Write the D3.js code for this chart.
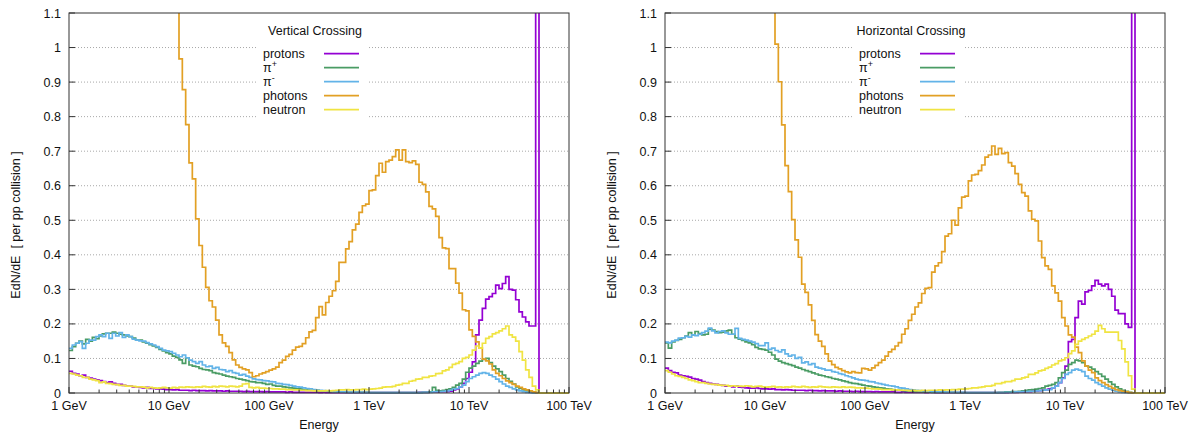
<!DOCTYPE html>
<html><head><meta charset="utf-8">
<script src="https://cdn.jsdelivr.net/npm/d3@7"></script>
<style>
body{margin:0;background:#fff}
svg{font-family:"Liberation Sans",Arial,Helvetica,sans-serif}
</style>
</head><body>
<svg id="chart" width="1195" height="434"></svg>
<script>
// ---------- data ----------
const binsPerDecade = 30;
const nBins = 150;
const xDomain = [1, 1e5];           // GeV
const yDomain = [0, 1.1];
const xTickValues = [1, 10, 100, 1000, 10000, 100000];
const xTickLabels = ["1 GeV", "10 GeV", "100 GeV", "1 TeV", "10 TeV", "100 TeV"];
const yTickValues = [0, 0.1, 0.2, 0.3, 0.4, 0.5, 0.6, 0.7, 0.8, 0.9, 1.0, 1.1];
const yTickLabels = ["0", "0.1", "0.2", "0.3", "0.4", "0.5", "0.6", "0.7", "0.8", "0.9", "1", "1.1"];
const seriesNames = ["protons", "π+", "π-", "photons", "neutron"];
const seriesColors = ["#9400d3", "#4a9c64", "#62b3e8", "#e2a024", "#f0e442"];
const panelTitles = ["Vertical Crossing", "Horizontal Crossing"];
const xAxisTitle = "Energy";
const yAxisTitle = "EdN/dE  [ per pp collision ]";

// Vertical crossing
const vProtons = [
 0.063,0.057,0.055,0.050,0.052,0.045,0.043,0.040,0.038,0.036,
 0.033,0.030,0.032,0.028,0.025,0.025,0.022,0.020,0.020,0.018,
 0.018,0.016,0.015,0.016,0.013,0.013,0.012,0.012,0.011,0.010,
 0.010,0.009,0.010,0.008,0.008,0.008,0.007,0.008,0.007,0.007,
 0.007,0.006,0.007,0.006,0.006,0.006,0.005,0.006,0.005,0.005,
 0.005,0.005,0.004,0.005,0.004,0.004,0.004,0.004,0.003,0.004,
 0.003,0.003,0.003,0.003,0.003,0.002,0.003,0.002,0.002,0.002,
 0.002,0.002,0.002,0.002,0.002,0.001,0.002,0.001,0.001,0.001,
 0.001,0.001,0.001,0.001,0.001,0.001,0.001,0.001,0.001,0.001,
 0.001,0.001,0.001,0.001,0.001,0.001,0.001,0.001,0.001,0.001,
 0.001,0.001,0.001,0.001,0.001,0.002,0.002,0.002,0.003,0.003,
 0.003,0.004,0.004,0.004,0.005,0.009,0.012,0.018,0.028,0.042,
 0.060,0.090,0.168,0.211,0.245,0.272,0.279,0.288,0.312,0.302,
 0.317,0.337,0.300,0.298,0.270,0.235,0.220,0.206,0.194,0.194,
 2.600,0,0,0,0,0,0,0,0,0];
const vPiPlus = [
 0.123,0.134,0.144,0.150,0.142,0.155,0.150,0.161,0.157,0.165,
 0.171,0.173,0.173,0.176,0.173,0.170,0.168,0.165,0.163,0.159,
 0.153,0.153,0.148,0.144,0.140,0.136,0.132,0.126,0.122,0.117,
 0.113,0.107,0.103,0.096,0.086,0.102,0.081,0.078,0.076,0.071,
 0.068,0.067,0.065,0.059,0.057,0.055,0.052,0.049,0.047,0.045,
 0.042,0.040,0.038,0.036,0.033,0.032,0.030,0.030,0.028,0.025,
 0.026,0.022,0.020,0.020,0.018,0.016,0.015,0.014,0.012,0.012,
 0.010,0.009,0.008,0.008,0.007,0.006,0.005,0.005,0.004,0.004,
 0.003,0.003,0.003,0.002,0.002,0.002,0.002,0.002,0.002,0.002,
 0.001,0.001,0.001,0.001,0.001,0.001,0.001,0.001,0.001,0.001,
 0.001,0.001,0.001,0.001,0.001,0.001,0.002,0.002,0.003,0.016,
 0.008,0.006,0.008,0.010,0.012,0.016,0.023,0.028,0.040,0.060,
 0.072,0.078,0.086,0.092,0.097,0.100,0.088,0.078,0.070,0.062,
 0.052,0.042,0.034,0.026,0.018,0.013,0.009,0.006,0.004,0.002,
 0.001,0,0,0,0,0,0,0,0,0];
const vPiMinus = [
 0.129,0.139,0.144,0.149,0.129,0.144,0.153,0.153,0.163,0.168,
 0.163,0.173,0.158,0.173,0.165,0.175,0.161,0.168,0.163,0.156,
 0.153,0.151,0.150,0.146,0.142,0.139,0.134,0.129,0.124,0.122,
 0.120,0.115,0.110,0.105,0.110,0.102,0.095,0.091,0.086,0.091,
 0.081,0.076,0.078,0.071,0.074,0.068,0.067,0.062,0.065,0.059,
 0.057,0.052,0.054,0.049,0.045,0.041,0.039,0.038,0.036,0.035,
 0.033,0.032,0.028,0.027,0.025,0.024,0.022,0.020,0.018,0.017,
 0.015,0.013,0.012,0.010,0.009,0.008,0.007,0.006,0.005,0.004,
 0.004,0.003,0.003,0.002,0.002,0.002,0.002,0.002,0.001,0.001,
 0.001,0.001,0.001,0.001,0.001,0.001,0.001,0.001,0.001,0.001,
 0.001,0.001,0.001,0.001,0.001,0.001,0.002,0.002,0.002,0.003,
 0.004,0.004,0.005,0.006,0.008,0.011,0.013,0.018,0.023,0.033,
 0.042,0.047,0.052,0.057,0.059,0.057,0.052,0.047,0.040,0.033,
 0.026,0.020,0.016,0.012,0.009,0.006,0.004,0.002,0.001,0,
 0,0,0,0,0,0,0,0,0,0];
const vPhotons = [
 3.20,3.10,3.00,2.90,2.80,2.70,2.60,2.50,2.40,2.30,
 2.20,2.10,2.00,1.95,1.90,1.85,1.80,1.75,1.70,1.65,
 1.60,1.55,1.50,1.45,1.40,1.36,1.32,1.28,1.25,1.22,
 1.19,1.16,1.13,0.967,0.878,0.777,0.666,0.620,0.504,0.427,
 0.364,0.306,0.267,0.249,0.211,0.168,0.145,0.135,0.117,0.096,
 0.081,0.074,0.070,0.067,0.059,0.047,0.050,0.055,0.058,0.062,
 0.066,0.070,0.075,0.088,0.095,0.106,0.112,0.124,0.133,0.135,
 0.143,0.160,0.177,0.181,0.218,0.250,0.226,0.262,0.280,0.296,
 0.323,0.378,0.378,0.417,0.438,0.472,0.489,0.523,0.542,0.547,
 0.586,0.588,0.629,0.665,0.639,0.670,0.674,0.684,0.704,0.674,
 0.704,0.670,0.667,0.672,0.662,0.610,0.604,0.582,0.540,0.533,
 0.511,0.450,0.420,0.418,0.360,0.360,0.318,0.289,0.241,0.238,
 0.183,0.164,0.148,0.130,0.098,0.093,0.084,0.067,0.057,0.050,
 0.042,0.035,0.030,0.025,0.020,0.016,0.012,0.009,0.006,0.003,
 0.001,0,0,0,0,0,0,0,0,0];
const vNeutron = [
 0.057,0.055,0.052,0.050,0.045,0.045,0.040,0.038,0.036,0.030,
 0.032,0.028,0.027,0.025,0.024,0.022,0.022,0.020,0.020,0.019,
 0.018,0.018,0.017,0.015,0.016,0.015,0.014,0.015,0.016,0.015,
 0.014,0.016,0.015,0.017,0.016,0.018,0.017,0.016,0.018,0.017,
 0.019,0.018,0.017,0.019,0.018,0.020,0.019,0.018,0.020,0.019,
 0.018,0.020,0.026,0.027,0.016,0.015,0.016,0.014,0.014,0.013,
 0.013,0.012,0.012,0.011,0.011,0.010,0.010,0.009,0.009,0.008,
 0.008,0.007,0.007,0.006,0.007,0.006,0.006,0.007,0.006,0.007,
 0.008,0.009,0.009,0.010,0.009,0.009,0.010,0.010,0.011,0.010,
 0.011,0.012,0.013,0.014,0.017,0.018,0.018,0.019,0.023,0.024,
 0.028,0.028,0.034,0.036,0.040,0.041,0.045,0.045,0.049,0.050,
 0.056,0.057,0.064,0.067,0.074,0.083,0.086,0.091,0.100,0.103,
 0.110,0.124,0.136,0.130,0.144,0.158,0.163,0.171,0.175,0.180,
 0.186,0.194,0.168,0.162,0.150,0.120,0.095,0.067,0.045,0.020,
 0.009,0,0,0,0,0,0,0,0,0];

// Horizontal crossing
const hProtons = [
 0.072,0.065,0.060,0.058,0.052,0.050,0.048,0.046,0.042,0.040,
 0.037,0.033,0.030,0.028,0.026,0.025,0.023,0.022,0.020,0.020,
 0.018,0.020,0.017,0.016,0.015,0.014,0.014,0.015,0.013,0.012,
 0.012,0.011,0.012,0.010,0.010,0.009,0.010,0.009,0.008,0.008,
 0.008,0.008,0.007,0.008,0.007,0.007,0.006,0.007,0.006,0.006,
 0.006,0.005,0.006,0.005,0.005,0.005,0.004,0.005,0.004,0.004,
 0.004,0.004,0.003,0.004,0.003,0.003,0.003,0.003,0.003,0.002,
 0.002,0.003,0.002,0.002,0.002,0.002,0.002,0.002,0.001,0.002,
 0.002,0.001,0.001,0.001,0.001,0.001,0.001,0.001,0.001,0.001,
 0.001,0.001,0.001,0.001,0.001,0.001,0.001,0.001,0.001,0.001,
 0.001,0.001,0.001,0.002,0.002,0.002,0.003,0.003,0.004,0.004,
 0.005,0.006,0.007,0.008,0.010,0.012,0.015,0.020,0.030,0.044,
 0.078,0.149,0.155,0.218,0.266,0.257,0.293,0.297,0.310,0.326,
 0.315,0.310,0.315,0.300,0.280,0.240,0.230,0.230,0.200,0.190,
 2.600,0,0,0,0,0,0,0,0,0];
const hPiPlus = [
 0.145,0.130,0.148,0.152,0.155,0.160,0.165,0.175,0.168,0.178,
 0.172,0.168,0.170,0.185,0.182,0.178,0.175,0.176,0.180,0.182,
 0.170,0.160,0.156,0.152,0.148,0.145,0.140,0.132,0.128,0.126,
 0.124,0.118,0.110,0.098,0.092,0.088,0.085,0.082,0.079,0.075,
 0.072,0.068,0.065,0.062,0.058,0.055,0.052,0.050,0.047,0.045,
 0.042,0.040,0.038,0.035,0.033,0.030,0.028,0.027,0.025,0.023,
 0.021,0.020,0.018,0.016,0.015,0.014,0.012,0.011,0.010,0.009,
 0.008,0.007,0.006,0.006,0.005,0.004,0.004,0.003,0.003,0.003,
 0.002,0.002,0.002,0.002,0.002,0.002,0.002,0.001,0.001,0.001,
 0.001,0.001,0.001,0.001,0.001,0.001,0.001,0.001,0.001,0.001,
 0.002,0.002,0.003,0.003,0.004,0.004,0.005,0.006,0.008,0.009,
 0.010,0.011,0.013,0.015,0.020,0.022,0.025,0.030,0.044,0.059,
 0.066,0.083,0.088,0.095,0.093,0.088,0.078,0.075,0.069,0.062,
 0.055,0.048,0.040,0.032,0.025,0.018,0.012,0.008,0.005,0.002,
 0,0,0,0,0,0,0,0,0,0];
const hPiMinus = [
 0.147,0.145,0.150,0.153,0.159,0.160,0.164,0.162,0.168,0.166,
 0.170,0.175,0.179,0.188,0.180,0.174,0.178,0.180,0.174,0.170,
 0.170,0.187,0.158,0.155,0.153,0.150,0.147,0.143,0.137,0.137,
 0.145,0.126,0.130,0.123,0.119,0.125,0.113,0.107,0.110,0.100,
 0.103,0.087,0.090,0.082,0.085,0.075,0.072,0.070,0.066,0.066,
 0.062,0.060,0.056,0.054,0.050,0.047,0.044,0.040,0.038,0.037,
 0.036,0.033,0.032,0.029,0.027,0.025,0.023,0.021,0.020,0.018,
 0.015,0.014,0.012,0.010,0.009,0.008,0.007,0.006,0.005,0.005,
 0.004,0.003,0.003,0.003,0.002,0.002,0.002,0.002,0.002,0.002,
 0.001,0.001,0.001,0.001,0.001,0.001,0.001,0.001,0.001,0.001,
 0.001,0.001,0.002,0.002,0.002,0.003,0.003,0.004,0.004,0.005,
 0.005,0.006,0.007,0.008,0.009,0.010,0.015,0.020,0.030,0.042,
 0.054,0.059,0.066,0.069,0.066,0.062,0.049,0.042,0.037,0.030,
 0.025,0.020,0.015,0.011,0.008,0.005,0.003,0.002,0.001,0,
 0,0,0,0,0,0,0,0,0,0];
const hPhotons = [
 3.00,2.90,2.80,2.70,2.60,2.50,2.40,2.30,2.20,2.10,
 2.00,1.95,1.90,1.85,1.80,1.75,1.70,1.65,1.60,1.55,
 1.50,1.46,1.42,1.38,1.34,1.31,1.28,1.25,1.22,1.19,
 1.16,1.14,1.12,1.010,0.901,0.776,0.658,0.583,0.502,0.443,
 0.393,0.315,0.291,0.255,0.210,0.169,0.150,0.135,0.113,0.092,
 0.082,0.074,0.070,0.065,0.061,0.058,0.062,0.059,0.058,0.071,
 0.070,0.066,0.073,0.080,0.088,0.095,0.107,0.119,0.126,0.136,
 0.146,0.170,0.186,0.210,0.228,0.249,0.261,0.288,0.303,0.305,
 0.350,0.368,0.377,0.409,0.454,0.461,0.500,0.486,0.536,0.567,
 0.570,0.614,0.631,0.633,0.644,0.660,0.683,0.689,0.715,0.691,
 0.708,0.693,0.696,0.667,0.657,0.635,0.604,0.580,0.570,0.527,
 0.503,0.498,0.440,0.392,0.368,0.358,0.310,0.290,0.266,0.218,
 0.194,0.168,0.162,0.133,0.117,0.093,0.078,0.066,0.059,0.044,
 0.036,0.030,0.024,0.019,0.014,0.010,0.007,0.005,0.003,0.001,
 0,0,0,0,0,0,0,0,0,0];
const hNeutron = [
 0.065,0.060,0.055,0.050,0.048,0.045,0.042,0.038,0.036,0.033,
 0.030,0.030,0.028,0.026,0.025,0.024,0.023,0.022,0.022,0.020,
 0.021,0.020,0.020,0.019,0.021,0.020,0.018,0.019,0.020,0.018,
 0.017,0.018,0.019,0.017,0.018,0.016,0.018,0.017,0.019,0.018,
 0.017,0.019,0.018,0.016,0.018,0.017,0.019,0.018,0.017,0.016,
 0.018,0.017,0.016,0.018,0.016,0.017,0.016,0.015,0.015,0.014,
 0.014,0.013,0.012,0.012,0.011,0.010,0.010,0.010,0.009,0.009,
 0.008,0.008,0.008,0.007,0.008,0.007,0.007,0.008,0.007,0.008,
 0.008,0.008,0.009,0.008,0.009,0.009,0.010,0.010,0.011,0.011,
 0.012,0.013,0.015,0.015,0.016,0.018,0.020,0.020,0.022,0.027,
 0.027,0.030,0.033,0.033,0.036,0.040,0.040,0.044,0.046,0.054,
 0.054,0.058,0.064,0.066,0.071,0.075,0.081,0.085,0.093,0.096,
 0.102,0.114,0.122,0.141,0.150,0.155,0.160,0.165,0.170,0.179,
 0.196,0.186,0.176,0.176,0.176,0.176,0.152,0.128,0.090,0.050,
 0.011,0,0,0,0,0,0,0,0,0];

// ---------- drawing ----------
const svg = d3.select("#chart");
const yTop = 13, yBottom = 393;
const binEdges = d3.range(nBins + 1).map(i => Math.pow(10, i / binsPerDecade));

const panels = [
  {title: panelTitles[0], x0: 69, x1: 569, keyX: 263, ylabX: 16,
   series: [vProtons, vPiPlus, vPiMinus, vPhotons, vNeutron]},
  {title: panelTitles[1], x0: 665, x1: 1165, keyX: 859, ylabX: 612,
   series: [hProtons, hPiPlus, hPiMinus, hPhotons, hNeutron]}
];

const minorTicks = [];
for (let d = 0; d < 5; d++) for (let m = 2; m <= 9; m++) minorTicks.push(m * Math.pow(10, d));

panels.forEach((p, pi) => {
  const x = d3.scaleLog().domain(xDomain).range([p.x0, p.x1]);
  const y = d3.scaleLinear().domain(yDomain).range([yBottom, yTop]);
  const g = svg.append("g");

  // grid
  g.selectAll("line.grid").data(yTickValues.slice(1, -1)).join("line")
    .attr("x1", p.x0).attr("x2", p.x1)
    .attr("y1", d => y(d)).attr("y2", d => y(d))
    .attr("stroke", "#a8a8a8").attr("stroke-width", 1)
    .attr("stroke-dasharray", "1,2");

  // clip
  const clipId = "clip" + pi;
  svg.append("clipPath").attr("id", clipId).append("rect")
    .attr("x", p.x0).attr("y", yTop).attr("width", p.x1 - p.x0).attr("height", yBottom - yTop + 1);

  // step histograms
  const line = d3.line().x(d => x(d[0])).y(d => y(d[1])).curve(d3.curveStepAfter);
  p.series.forEach((vals, si) => {
    const pts = vals.map((v, i) => [binEdges[i], v]);
    pts.push([binEdges[vals.length], vals[vals.length - 1]]);
    g.append("path").attr("d", line(pts))
      .attr("fill", "none").attr("stroke", seriesColors[si])
      .attr("stroke-width", 1.7).attr("stroke-linejoin", "miter")
      .attr("clip-path", `url(#${clipId})`);
  });

  // key
  const k = g.append("g");
  k.append("rect").attr("x", p.keyX - 5).attr("y", 41).attr("width", 109).attr("height", 77).attr("fill", "#fff");
  k.append("text").attr("x", p.keyX + 52).attr("y", 35).attr("text-anchor", "middle")
    .attr("font-size", 12.5).attr("fill", "#111").text(p.title);
  seriesNames.forEach((name, si) => {
    const cy = 53.7 + 14 * si;
    const t = k.append("text").attr("x", p.keyX).attr("y", cy + 4.5).attr("font-size", 12.5).attr("fill", "#111");
    if (name.startsWith("π")) {
      t.append("tspan").text("π");
      t.append("tspan").attr("dy", -5).attr("font-size", 9).text(name.slice(1));
    } else t.text(name);
    k.append("line").attr("x1", p.keyX + 61).attr("x2", p.keyX + 96).attr("y1", cy).attr("y2", cy)
      .attr("stroke", seriesColors[si]).attr("stroke-width", 1.7);
  });

  // x ticks
  g.selectAll("line.mt").data(minorTicks).join("line")
    .attr("x1", d => x(d)).attr("x2", d => x(d)).attr("y1", yBottom).attr("y2", yBottom - 3.5)
    .attr("stroke", "#333").attr("stroke-width", 1);
  g.selectAll("line.Mt").data(xTickValues).join("line")
    .attr("x1", d => x(d)).attr("x2", d => x(d)).attr("y1", yBottom).attr("y2", yBottom - 6)
    .attr("stroke", "#333").attr("stroke-width", 1);
  g.selectAll("text.xl").data(xTickValues).join("text")
    .attr("x", d => x(d)).attr("y", 409.5).attr("text-anchor", "middle")
    .attr("font-size", 12.5).attr("fill", "#111").text((d, i) => xTickLabels[i]);

  // y ticks
  g.selectAll("line.yt").data(yTickValues).join("line")
    .attr("x1", p.x0).attr("x2", p.x0 + 6).attr("y1", d => y(d)).attr("y2", d => y(d))
    .attr("stroke", "#333").attr("stroke-width", 1);
  g.selectAll("text.yl").data(yTickValues).join("text")
    .attr("x", p.x0 - 8).attr("y", d => y(d) + 4.5).attr("text-anchor", "end")
    .attr("font-size", 12.5).attr("fill", "#111").text((d, i) => yTickLabels[i]);

  // border
  g.append("rect").attr("x", p.x0).attr("y", yTop).attr("width", p.x1 - p.x0).attr("height", yBottom - yTop)
    .attr("fill", "none").attr("stroke", "#333").attr("stroke-width", 1);

  // axis titles
  g.append("text").attr("x", (p.x0 + p.x1) / 2).attr("y", 429).attr("text-anchor", "middle")
    .attr("font-size", 12.5).attr("fill", "#111").text(xAxisTitle);
  g.append("text").attr("transform", `translate(${p.ylabX},225) rotate(-90)`)
    .attr("text-anchor", "middle").attr("dy", "0.35em").attr("font-size", 12.5).attr("fill", "#111")
    .style("white-space", "pre").text(yAxisTitle);
});
</script>
</body></html>
